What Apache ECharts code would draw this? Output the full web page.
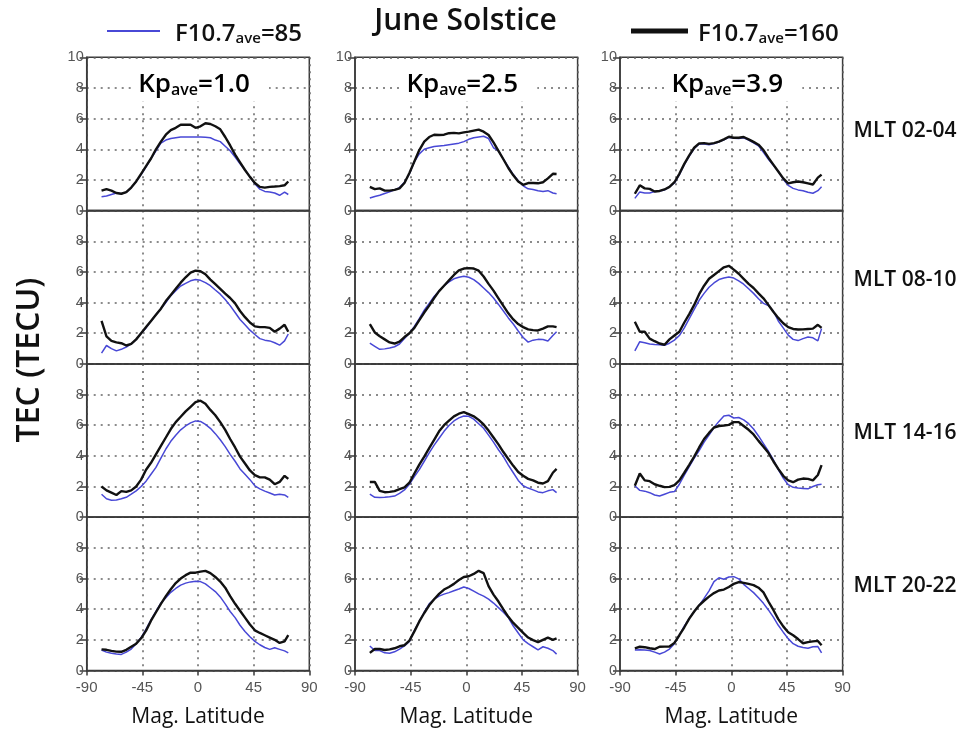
<!DOCTYPE html>
<html>
<head>
<meta charset="utf-8">
<title>June Solstice TEC</title>
<script src="https://cdn.jsdelivr.net/npm/echarts@6/dist/echarts.min.js"></script>
<style>
  html, body { margin: 0; padding: 0; background: #fff; }
  #chart { width: 969px; height: 729px; }
</style>
</head>
<body>
<div id="chart"></div>
<script>
// Magnetic latitude sample points (deg)
const magLat = [-78,-74,-70,-66,-62,-58,-54,-50,-46,-42,-38,-34,-30,-26,-22,-18,-14,-10,-6,-2,2,6,10,14,18,22,26,30,34,38,42,46,50,54,58,62,66,70,73];

const xTicks = [-90, -45, 0, 45, 90];
const kpLevels = ['1.0', '2.5', '3.9'];
const mltSectors = ['MLT 02-04', 'MLT 08-10', 'MLT 14-16', 'MLT 20-22'];
const lowName = 'F10.7ave=85';
const highName = 'F10.7ave=160';

// TEC (TECU), F10.7 = 85
const low_0204_kp10 = [0.9,0.95,1.05,1.15,1.1,1.2,1.5,1.9,2.35,2.85,3.4,3.9,4.4,4.6,4.7,4.75,4.8,4.8,4.8,4.8,4.8,4.78,4.75,4.6,4.5,4.2,3.9,3.5,3.05,2.65,2.2,1.75,1.4,1.25,1.22,1.15,1.0,1.2,1.05];
const low_0204_kp25 = [0.82,0.92,1.0,1.12,1.22,1.35,1.5,1.85,2.4,3.2,3.7,4.0,4.1,4.18,4.22,4.25,4.3,4.35,4.4,4.5,4.65,4.75,4.8,4.85,4.7,4.1,3.9,3.35,2.85,2.35,1.95,1.62,1.42,1.37,1.3,1.25,1.3,1.15,1.1];
const low_0204_kp39 = [0.8,1.22,1.15,1.15,1.24,1.28,1.35,1.55,1.8,2.35,3.0,3.55,4.05,4.35,4.35,4.3,4.38,4.48,4.62,4.78,4.72,4.7,4.75,4.6,4.42,4.22,3.8,3.35,2.95,2.55,2.05,1.65,1.45,1.35,1.3,1.2,1.13,1.3,1.55];
const low_0810_kp10 = [0.7,1.2,1.0,0.85,0.95,1.1,1.3,1.6,2.0,2.35,2.8,3.2,3.6,4.0,4.45,4.78,5.08,5.25,5.42,5.5,5.45,5.3,5.1,4.82,4.55,4.2,3.8,3.35,2.9,2.55,2.2,1.92,1.65,1.55,1.5,1.38,1.22,1.5,1.95];
const low_0810_kp25 = [1.35,1.15,0.95,0.98,1.04,1.12,1.3,1.65,2.0,2.45,2.95,3.5,3.95,4.4,4.75,5.1,5.35,5.55,5.65,5.72,5.65,5.5,5.25,4.95,4.65,4.3,3.88,3.45,3.0,2.6,2.15,1.72,1.42,1.55,1.6,1.59,1.5,1.85,2.1];
const low_0810_kp39 = [0.85,1.45,1.38,1.3,1.26,1.25,1.22,1.35,1.55,1.85,2.35,2.95,3.55,4.15,4.6,5.0,5.28,5.5,5.6,5.67,5.6,5.42,5.2,4.9,4.6,4.25,3.95,3.8,3.45,2.8,2.35,1.88,1.6,1.52,1.65,1.75,1.7,1.5,2.3];
const low_1416_kp10 = [1.5,1.2,1.1,1.12,1.2,1.3,1.5,1.72,2.0,2.35,2.8,3.25,3.85,4.45,4.95,5.35,5.7,5.95,6.15,6.28,6.25,6.05,5.8,5.45,5.05,4.6,4.1,3.65,3.15,2.8,2.45,2.05,1.85,1.7,1.58,1.45,1.5,1.45,1.3];
const low_1416_kp25 = [1.5,1.3,1.28,1.3,1.33,1.38,1.55,1.78,2.15,2.65,3.1,3.65,4.2,4.7,5.15,5.6,5.98,6.28,6.48,6.6,6.58,6.4,6.1,5.8,5.35,4.9,4.4,3.95,3.4,2.9,2.4,2.05,1.9,1.78,1.65,1.6,1.72,1.8,1.6];
const low_1416_kp39 = [2.05,1.75,1.7,1.6,1.45,1.38,1.5,1.62,1.67,2.15,2.75,3.3,3.85,4.35,4.9,5.35,5.85,6.25,6.6,6.65,6.47,6.5,6.35,6.1,5.75,5.3,4.8,4.3,3.75,3.1,2.55,2.12,1.95,1.9,1.88,1.85,2.0,2.12,2.15];
const low_2022_kp10 = [1.34,1.2,1.12,1.08,1.05,1.2,1.4,1.75,2.15,2.7,3.3,3.85,4.4,4.75,5.1,5.35,5.57,5.7,5.78,5.82,5.8,5.65,5.4,5.15,4.8,4.35,3.85,3.45,2.95,2.55,2.2,1.9,1.68,1.5,1.38,1.48,1.38,1.28,1.15];
const low_2022_kp25 = [1.6,1.3,1.3,1.15,1.12,1.22,1.4,1.6,1.9,2.6,3.2,3.8,4.35,4.65,4.85,4.98,5.08,5.2,5.32,5.45,5.35,5.18,5.0,4.85,4.65,4.4,4.1,3.8,3.45,2.9,2.45,2.0,1.75,1.55,1.35,1.55,1.45,1.3,1.07];
const low_2022_kp39 = [1.34,1.36,1.34,1.3,1.2,1.08,1.2,1.4,1.75,2.3,2.9,3.4,3.85,4.25,4.7,5.2,5.8,6.05,5.95,6.1,6.12,5.98,5.62,5.35,5.08,4.75,4.38,3.95,3.48,2.95,2.5,2.08,1.75,1.58,1.5,1.45,1.55,1.56,1.15];

// TEC (TECU), F10.7 = 160
const high_0204_kp10 = [1.3,1.4,1.3,1.15,1.1,1.2,1.5,1.9,2.4,2.9,3.4,4.0,4.5,4.95,5.25,5.4,5.6,5.6,5.6,5.4,5.5,5.7,5.65,5.5,5.3,4.8,4.25,3.65,3.15,2.65,2.2,1.8,1.55,1.5,1.55,1.57,1.6,1.65,1.9];
const high_0204_kp25 = [1.55,1.4,1.45,1.3,1.3,1.35,1.45,1.8,2.45,3.2,3.95,4.5,4.8,4.95,4.93,4.95,5.05,5.07,5.04,5.1,5.15,5.22,5.28,5.15,4.93,4.45,3.9,3.35,2.78,2.3,1.9,1.68,1.8,1.8,1.78,1.85,2.1,2.4,2.39];
const high_0204_kp39 = [1.1,1.65,1.45,1.42,1.25,1.28,1.38,1.55,1.85,2.4,3.05,3.6,4.1,4.38,4.4,4.35,4.4,4.5,4.65,4.82,4.75,4.75,4.8,4.65,4.48,4.3,3.95,3.45,3.0,2.55,2.1,1.78,1.85,1.9,1.85,1.78,1.7,2.15,2.35];
const high_0810_kp10 = [2.8,1.8,1.5,1.4,1.35,1.2,1.3,1.6,2.0,2.4,2.8,3.2,3.6,4.1,4.5,4.9,5.3,5.65,5.95,6.08,6.05,5.85,5.5,5.2,4.9,4.58,4.3,3.95,3.45,3.05,2.7,2.45,2.4,2.4,2.35,2.1,2.3,2.55,2.1];
const high_0810_kp25 = [2.6,2.05,1.8,1.6,1.4,1.33,1.45,1.75,2.0,2.35,2.85,3.35,3.8,4.3,4.75,5.1,5.45,5.8,6.1,6.22,6.25,6.22,6.08,5.7,5.22,4.78,4.28,3.78,3.3,2.9,2.6,2.4,2.25,2.2,2.18,2.3,2.45,2.45,2.4];
const high_0810_kp39 = [2.75,2.1,2.1,1.65,1.48,1.33,1.25,1.6,1.85,2.1,2.7,3.25,3.85,4.55,5.1,5.55,5.8,6.05,6.3,6.4,6.15,5.88,5.55,5.22,4.95,4.6,4.28,3.85,3.4,3.0,2.65,2.4,2.28,2.24,2.25,2.28,2.3,2.55,2.35];
const high_1416_kp10 = [2.0,1.75,1.6,1.45,1.7,1.65,1.75,2.0,2.45,3.1,3.55,4.1,4.65,5.2,5.75,6.2,6.55,6.9,7.2,7.5,7.6,7.4,7.0,6.65,6.2,5.7,5.1,4.55,3.95,3.5,3.05,2.75,2.6,2.6,2.45,2.15,2.3,2.7,2.5];
const high_1416_kp25 = [2.3,2.3,1.72,1.63,1.65,1.7,1.83,1.95,2.25,2.85,3.43,3.95,4.5,5.05,5.6,6.0,6.3,6.58,6.75,6.85,6.72,6.58,6.35,6.05,5.65,5.2,4.75,4.25,3.8,3.35,2.95,2.7,2.5,2.4,2.25,2.2,2.35,2.9,3.15];
const high_1416_kp39 = [2.05,2.85,2.4,2.35,2.15,2.05,1.96,1.98,2.1,2.4,2.9,3.42,3.95,4.55,5.1,5.5,5.85,5.95,5.98,6.02,6.2,6.2,5.95,5.7,5.4,4.98,4.6,4.2,3.65,3.15,2.7,2.4,2.28,2.45,2.52,2.5,2.4,2.75,3.4];
const high_2022_kp10 = [1.38,1.35,1.28,1.23,1.22,1.35,1.55,1.75,2.1,2.6,3.25,3.8,4.35,4.85,5.3,5.7,6.0,6.22,6.38,6.38,6.45,6.5,6.35,6.1,5.8,5.4,4.85,4.35,3.9,3.45,3.0,2.62,2.45,2.3,2.15,2.0,1.8,1.9,2.3];
const high_2022_kp25 = [1.15,1.4,1.4,1.34,1.38,1.45,1.58,1.65,1.95,2.55,3.2,3.75,4.25,4.65,5.0,5.28,5.45,5.65,5.9,6.1,6.15,6.3,6.5,6.35,5.5,4.95,4.5,3.98,3.5,3.1,2.78,2.45,2.15,1.98,1.85,2.0,2.15,2.0,2.1];
const high_2022_kp39 = [1.45,1.55,1.52,1.45,1.4,1.55,1.56,1.56,1.8,2.3,2.82,3.38,3.85,4.25,4.55,4.82,5.05,5.22,5.28,5.45,5.65,5.77,5.72,5.65,5.57,5.4,5.1,4.5,3.95,3.35,2.88,2.5,2.3,2.05,1.78,1.85,1.9,1.93,1.65];

// panel grid: rows = MLT sector, columns = Kp level; each cell = [low flux, high flux]
const panelData = [
  [[low_0204_kp10, high_0204_kp10], [low_0204_kp25, high_0204_kp25], [low_0204_kp39, high_0204_kp39]],
  [[low_0810_kp10, high_0810_kp10], [low_0810_kp25, high_0810_kp25], [low_0810_kp39, high_0810_kp39]],
  [[low_1416_kp10, high_1416_kp10], [low_1416_kp25, high_1416_kp25], [low_1416_kp39, high_1416_kp39]],
  [[low_2022_kp10, high_2022_kp10], [low_2022_kp25, high_2022_kp25], [low_2022_kp39, high_2022_kp39]]
];

// ---- layout ----
const colLeft = [86.7, 355, 620];
const rowTop = [57.3, 210.6, 363.9, 517.2];
const panelW = 222.6;
const panelH = 153.3;
const mltLabelY = [131, 280, 433, 586];

const FONT = '"Open Sans", "Noto Sans", sans-serif';
const TICK_FONT = '"Liberation Sans", Arial, sans-serif';
const FRAME = '#3a3a3a';
const GRID_LINE = { color: '#666', width: 1.5, type: [2, 5] };
const LOW_COLOR = '#4848d6';
const HIGH_COLOR = '#111111';

const subRich = (size, subSize) => ({
  m: { fontFamily: FONT, fontWeight: 600, fontSize: size, color: '#111', lineHeight: size + 6, verticalAlign: 'bottom' },
  s: { fontFamily: FONT, fontWeight: 600, fontSize: subSize, color: '#111', lineHeight: subSize + 5, verticalAlign: 'bottom' }
});
const withSub = s => s.replace(/^([^a]*?)(ave)(.*)$/, '{m|$1}{s|$2}{m|$3}');

const grids = [], xAxes = [], yAxes = [], series = [];
for (let r = 0; r < 4; r++) {
  for (let c = 0; c < 3; c++) {
    const p = r * 3 + c;
    const bottomRow = r === 3;
    grids.push({
      left: colLeft[c], top: rowTop[r], width: panelW, height: panelH,
      show: true, borderColor: FRAME, borderWidth: 1.5, backgroundColor: 'transparent'
    });
    xAxes.push({
      gridIndex: p, type: 'value', min: xTicks[0], max: xTicks[xTicks.length - 1], interval: 45,
      axisLine: { show: true, onZero: false, lineStyle: { color: FRAME, width: 1.5 } },
      axisTick: { show: bottomRow, length: 5, lineStyle: { color: FRAME, width: 1.5 } },
      axisLabel: { show: bottomRow, color: '#555', fontSize: 15, fontFamily: TICK_FONT, margin: 10 },
      splitLine: { show: true, lineStyle: GRID_LINE },
      name: bottomRow ? 'Mag. Latitude' : '',
      nameLocation: 'middle', nameGap: 36,
      nameTextStyle: { fontFamily: FONT, fontWeight: 500, fontSize: 21, color: '#111' }
    });
    yAxes.push({
      gridIndex: p, type: 'value', min: 0, max: 10, interval: 2,
      axisLine: { show: true, onZero: false, lineStyle: { color: FRAME, width: 1.5 } },
      axisTick: { show: true, length: 7, lineStyle: { color: FRAME, width: 1.5 } },
      axisLabel: {
        show: true, color: '#555', fontSize: 14.5, fontFamily: TICK_FONT, margin: 3,
        formatter: v => (r > 0 && v === 10) ? '' : String(v)
      },
      splitLine: { show: true, lineStyle: GRID_LINE }
    });
    const [lowArr, highArr] = panelData[r][c];
    series.push({
      name: lowName, type: 'line', xAxisIndex: p, yAxisIndex: p,
      data: magLat.map((lat, i) => [lat, lowArr[i]]),
      symbol: 'none', showSymbol: false, silent: true, z: 3,
      lineStyle: { color: LOW_COLOR, width: 1.5 }, itemStyle: { color: LOW_COLOR }
    });
    series.push({
      name: highName, type: 'line', xAxisIndex: p, yAxisIndex: p,
      data: magLat.map((lat, i) => [lat, highArr[i]]),
      symbol: 'none', showSymbol: false, silent: true, z: 4,
      lineStyle: { color: HIGH_COLOR, width: 2.4 }, itemStyle: { color: HIGH_COLOR }
    });
  }
}

// annotations: figure title, Kp headers (with white backing), MLT sector labels, y title
const graphics = [];
graphics.push({
  type: 'text', x: 465.5, y: 21, z: 20,
  style: { text: 'June Solstice', fontFamily: FONT, fontWeight: 600, fontSize: 30, fill: '#111', align: 'center', verticalAlign: 'middle' }
});
kpLevels.forEach((kp, c) => {
  const cx = colLeft[c] + panelW / 2;
  graphics.push({
    type: 'rect', z: 10, silent: true,
    shape: { x: cx - 67, y: 59, width: 138, height: 42 },
    style: { fill: '#fff' }
  });
  graphics.push({
    type: 'text', x: cx - 4, y: 82, z: 11,
    style: { text: withSub('Kpave=' + kp), rich: subRich(26, 16), align: 'center', verticalAlign: 'middle' }
  });
});
mltSectors.forEach((label, r) => {
  graphics.push({
    type: 'text', x: 905, y: mltLabelY[r], z: 20,
    style: { text: label, fontFamily: FONT, fontWeight: 600, fontSize: 21, fill: '#111', align: 'center', verticalAlign: 'middle' }
  });
});
graphics.push({
  type: 'text', x: 30, y: 360, rotation: Math.PI / 2, z: 20,
  style: { text: 'TEC (TECU)', fontFamily: FONT, fontWeight: 600, fontSize: 32, fill: '#111', align: 'center', verticalAlign: 'middle' }
});

const legendText = { rich: subRich(24, 15) };

const option = {
  backgroundColor: '#fff',
  animation: false,
  grid: grids,
  xAxis: xAxes,
  yAxis: yAxes,
  series: series,
  legend: [
    {
      data: [{ name: lowName, icon: 'rect', itemStyle: { color: LOW_COLOR } }],
      left: 107, top: 22, padding: 0, itemWidth: 53, itemHeight: 2, selectedMode: false,
      formatter: withSub,
      textStyle: Object.assign({}, legendText, { padding: [0, 0, 0, 10] })
    },
    {
      data: [{ name: highName, icon: 'rect', itemStyle: { color: HIGH_COLOR } }],
      left: 631, top: 22, padding: 0, itemWidth: 57, itemHeight: 5, selectedMode: false,
      formatter: withSub,
      textStyle: Object.assign({}, legendText, { padding: [0, 0, 0, 5] })
    }
  ],
  graphic: graphics
};

const chart = echarts.init(document.getElementById('chart'));
chart.setOption(option);
</script>
</body>
</html>
